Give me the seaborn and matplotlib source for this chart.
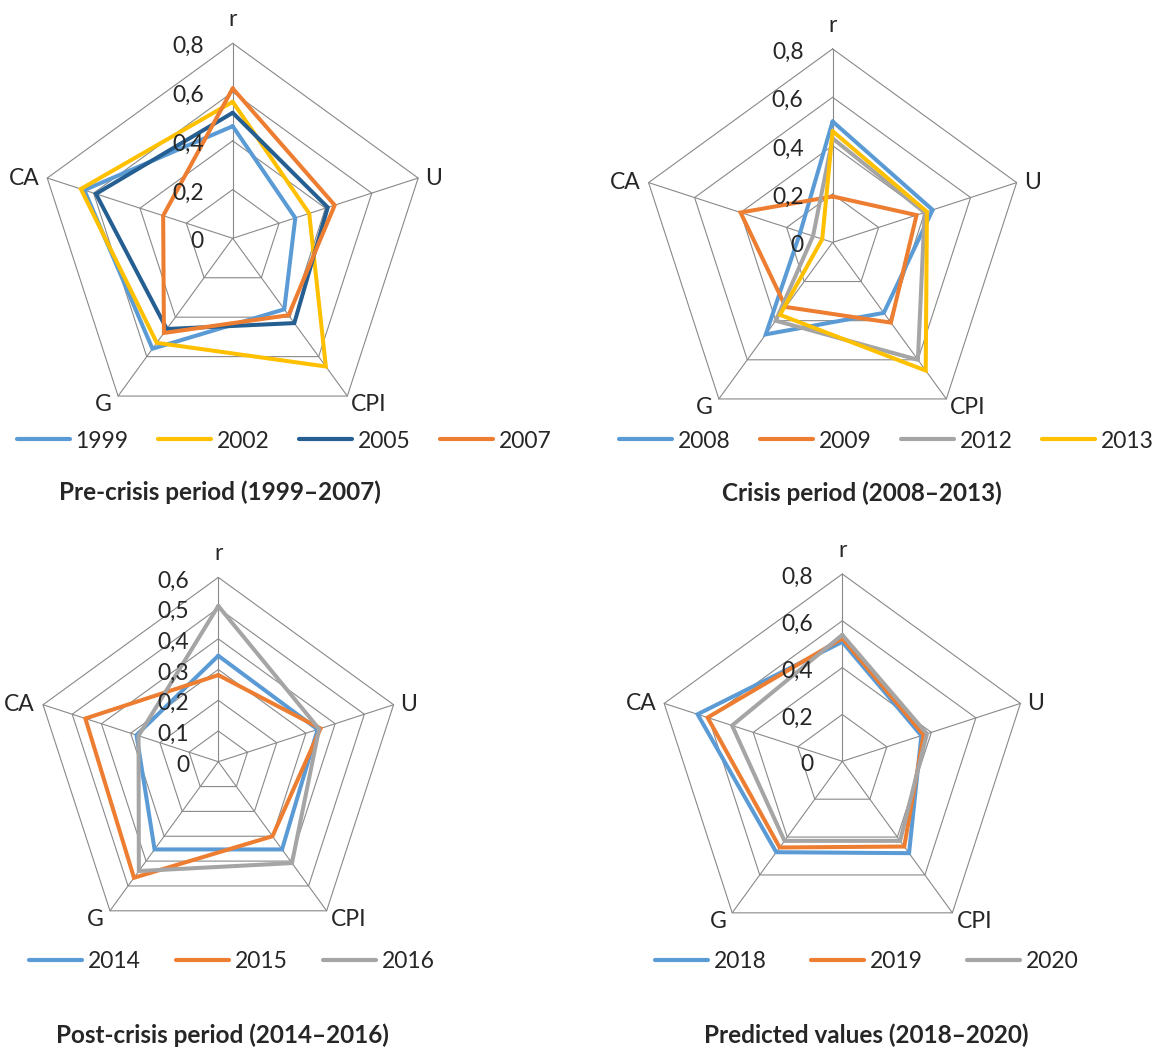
import numpy as np
import pandas as pd
import matplotlib.pyplot as plt
from matplotlib.lines import Line2D
import seaborn as sns

# radar axes, clockwise from the top
spokes = ['r', 'U', 'CPI', 'G', 'CA']

# pre-crisis
pre_years = ['1999', '2002', '2005', '2007']
pre_1999 = [0.46, 0.27, 0.36, 0.56, 0.64]
pre_2002 = [0.56, 0.33, 0.65, 0.53, 0.655]
pre_2005 = [0.515, 0.41, 0.43, 0.46, 0.59]
pre_2007 = [0.615, 0.44, 0.39, 0.48, 0.30]

# crisis
cri_years = ['2008', '2009', '2012', '2013']
cri_2008 = [0.50, 0.435, 0.36, 0.47, 0.14]
cri_2009 = [0.19, 0.365, 0.41, 0.33, 0.40]
cri_2012 = [0.43, 0.40, 0.60, 0.40, 0.085]
cri_2013 = [0.46, 0.41, 0.655, 0.37, 0.045]

# post-crisis
post_years = ['2014', '2015', '2016']
post_2014 = [0.345, 0.34, 0.353, 0.353, 0.28]
post_2015 = [0.282, 0.35, 0.30, 0.467, 0.455]
post_2016 = [0.507, 0.345, 0.408, 0.44, 0.273]

# predicted
pred_years = ['2018', '2019', '2020']
pred_2018 = [0.51, 0.355, 0.485, 0.48, 0.65]
pred_2019 = [0.525, 0.365, 0.45, 0.455, 0.605]
pred_2020 = [0.54, 0.38, 0.42, 0.42, 0.495]

BLUE, ORANGE, GRAY, YELLOW, DARK = '#5B9BD5', '#ED7D31', '#A5A5A5', '#FFC000', '#255E91'
GRID = '#898989'
FS = 16.5

sns.set_theme(style='white')
plt.rcParams['font.family'] = ['Lato', 'DejaVu Sans']

W, H = 1156, 1053
fig = plt.figure(figsize=(W / 100, H / 100), dpi=100)

panels = [
    dict(years=pre_years, series=[pre_1999, pre_2002, pre_2005, pre_2007],
         colors=[BLUE, YELLOW, DARK, ORANGE], vmax=0.8, step=0.2,
         title='Pre-crisis period (1999–2007)',
         c=(232.7, 238.3), R=195, leg=(17, 441), cs=1.3, tpos=(220, 492)),
    dict(years=cri_years, series=[cri_2008, cri_2009, cri_2012, cri_2013],
         colors=[BLUE, ORANGE, GRAY, YELLOW], vmax=0.8, step=0.2,
         title='Crisis period (2008–2013)',
         c=(832.6, 242.4), R=193.5, leg=(619, 441), cs=1.3, tpos=(862, 493)),
    dict(years=post_years, series=[post_2014, post_2015, post_2016],
         colors=[BLUE, ORANGE, GRAY], vmax=0.6, step=0.1,
         title='Post-crisis period (2014–2016)',
         c=(218.3, 761.7), R=184.3, leg=(29, 962), cs=1.56, tpos=(222, 1035)),
    dict(years=pred_years, series=[pred_2018, pred_2019, pred_2020],
         colors=[BLUE, ORANGE, GRAY], vmax=0.8, step=0.2,
         title='Predicted values (2018–2020)',
         c=(842.3, 761.3), R=187.3, leg=(655, 962), cs=1.95, tpos=(866, 1035)),
]

ang = np.linspace(0, 2 * np.pi, len(spokes), endpoint=False)
closed = np.append(ang, 2 * np.pi)

# label placement per spoke: offset (px), ha, va
lab_pos = {
    'r': ((0, 17), 'center', 'baseline'),
    'U': ((7, 0), 'left', 'center'),
    'CPI': ((4, -15), 'left', 'baseline'),
    'G': ((-6, -15), 'right', 'baseline'),
    'CA': ((-8, 0), 'right', 'center'),
}

for p in panels:
    cx, cy = p['c']
    R = p['R']
    ax = fig.add_axes([(cx - R) / W, (H - cy - R) / H, 2 * R / W, 2 * R / H],
                      projection='polar')
    ax.set_theta_zero_location('N')
    ax.set_theta_direction(-1)

    vmax, step = p['vmax'], p['step']
    levels = np.round(np.arange(step, vmax + step / 2, step), 2)
    for k in levels:
        ax.plot(closed, [k] * len(closed), color=GRID, lw=0.8, zorder=1, clip_on=False)
    for t in ang:
        ax.plot([t, t], [0, vmax], color=GRID, lw=0.8, zorder=1, clip_on=False)

    rows = []
    for yr, vals in zip(p['years'], p['series']):
        for t, v in zip(closed, list(vals) + [vals[0]]):
            rows.append((yr, t, v))
    df = pd.DataFrame(rows, columns=['year', 'theta', 'value'])
    sns.lineplot(data=df, x='theta', y='value', hue='year', hue_order=p['years'],
                 palette=p['colors'], sort=False, estimator=None, linewidth=2.9,
                 solid_joinstyle='miter', legend=False, ax=ax, zorder=3)

    ax.set_ylim(0, vmax)
    ax.set_xticks([])
    ax.set_yticks([])
    ax.grid(False)
    ax.spines['polar'].set_visible(False)
    ax.set_facecolor('none')
    ax.set_xlabel('')
    ax.set_ylabel('')

    for name, t in zip(spokes, ang):
        off, ha, va = lab_pos[name]
        ax.annotate(name, xy=(t, vmax), xytext=off, textcoords='offset pixels',
                    ha=ha, va=va, fontsize=FS, annotation_clip=False)

    for k in np.append(0, levels):
        txt = '0' if k == 0 else f'{k:.1f}'.replace('.', ',')
        ax.annotate(txt, xy=(0, k), xytext=(-29, -10), textcoords='offset pixels',
                    ha='right', va='baseline', fontsize=FS, annotation_clip=False)

    handles = [Line2D([], [], color=c, lw=3.0) for c in p['colors']]
    lx, ly = p['leg']
    ax.legend(handles, p['years'], loc='center left',
              bbox_to_anchor=(lx / W, 1 - ly / H), bbox_transform=fig.transFigure,
              ncol=len(p['years']), frameon=False, borderpad=0, borderaxespad=0,
              handlelength=2.3, handletextpad=0.25, columnspacing=p['cs'],
              fontsize=FS)

    tx, ty = p['tpos']
    fig.text(tx / W, 1 - ty / H, p['title'], ha='center', va='center',
             fontsize=17.5, fontweight='bold')

fig.savefig('out.png', dpi=100)
